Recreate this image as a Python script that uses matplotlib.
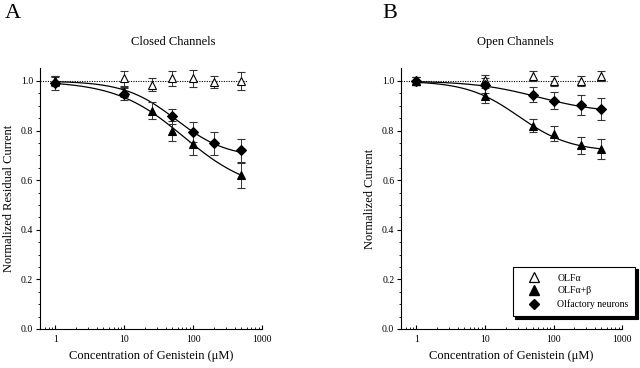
import matplotlib
matplotlib.use('Agg')
import matplotlib.pyplot as plt
import numpy as np
from matplotlib.ticker import FixedLocator, LogLocator, NullFormatter

plt.rcParams['font.family'] = ['Liberation Serif', 'DejaVu Serif']

# closed channels (panel A)
closed_x_olfa = [1, 10, 25, 50, 100, 200, 500]
closed_olfa = [1.0, 1.01, 0.985, 1.01, 1.01, 0.995, 1.0]
closed_olfa_err = [0.02, 0.03, 0.025, 0.03, 0.035, 0.025, 0.035]

closed_x_olfab = [1, 10, 25, 50, 100, 500]
closed_olfab = [1.0, 0.955, 0.88, 0.80, 0.745, 0.62]
closed_olfab_err = [0.02, 0.02, 0.035, 0.04, 0.045, 0.05]

closed_x_neur = [1, 10, 50, 100, 200, 500]
closed_neur = [0.99, 0.948, 0.857, 0.795, 0.748, 0.72]
closed_neur_err = [0.025, 0.025, 0.03, 0.04, 0.045, 0.045]

# open channels (panel B)
open_x = [1, 10, 50, 100, 250, 500]
open_olfa = [1.0, 1.005, 1.02, 1.0, 1.0, 1.02]
open_olfa_err = [0.015, 0.02, 0.02, 0.02, 0.02, 0.02]
open_olfab = [1.0, 0.94, 0.82, 0.788, 0.741, 0.727]
open_olfab_err = [0.015, 0.03, 0.025, 0.03, 0.035, 0.04]
open_neur = [1.0, 0.983, 0.945, 0.92, 0.903, 0.886]
open_neur_err = [0.015, 0.03, 0.03, 0.035, 0.04, 0.045]

# Hill fit parameters (max block, K1/2, hill coefficient)
fit_closed_olfab = (0.45, 73, 0.88)
fit_closed_neur = (0.31, 56, 1.17)
fit_open_olfab = (0.285, 31, 1.15)
fit_open_neur = (0.13, 60, 0.93)

labels = ['OLF\u03b1', 'OLF\u03b1+\u03b2', 'Olfactory neurons']


def hill(x, p):
    a, k, n = p
    return 1 - a * x ** n / (x ** n + k ** n)


def setupAxes(ax, ylabel):
    ax.set_xscale('log')
    ax.set_xlim(0.6, 1000)
    ax.set_ylim(0, 1.052)
    ax.spines['top'].set_visible(False)
    ax.spines['right'].set_visible(False)
    ax.spines['left'].set_linewidth(0.8)
    ax.spines['bottom'].set_linewidth(0.8)
    ax.xaxis.set_major_locator(FixedLocator([1, 10, 100, 1000]))
    ax.set_xticklabels(['1', '10', '100', '1000'])
    ax.xaxis.set_minor_locator(LogLocator(base=10, subs=np.arange(2, 10)))
    ax.xaxis.set_minor_formatter(NullFormatter())
    ax.set_yticks([0, 0.2, 0.4, 0.6, 0.8, 1.0])
    ax.set_yticklabels(['0.0', '0.2', '0.4', '0.6', '0.8', '1.0'])
    ax.set_yticks(np.arange(0, 1.05, 0.05), minor=True)
    ax.tick_params(axis='x', which='major', direction='in', length=3, labelsize=7, pad=4)
    ax.tick_params(axis='x', which='minor', direction='in', length=1.8)
    ax.tick_params(axis='y', which='major', direction='out', length=3, labelsize=7, pad=2)
    ax.tick_params(axis='y', which='minor', direction='out', length=1.5)
    ax.set_xlabel('Concentration of Genistein (\u03bcM)', fontsize=9, labelpad=5)
    ax.set_ylabel(ylabel, fontsize=9, labelpad=4)
    ax.plot([0.6, 600], [1, 1], color='k', linestyle=(0, (1, 1.2)), linewidth=0.8, zorder=1)


def drawSeries(ax, x, y, err, marker, face, label):
    size = 5 if marker == 'D' else 6
    ax.errorbar(x, y, yerr=err, fmt=marker, color='k', mfc=face, mec='k', ms=size, mew=0.8,
                ecolor='#333333', elinewidth=0.7, capsize=3, capthick=0.7, label=label, zorder=3)


fig = plt.figure(figsize=(6.4, 3.68), dpi=100)
axA = fig.add_axes([0.0625, 0.106, 0.347, 0.709])
axB = fig.add_axes([0.627, 0.106, 0.345, 0.709])

setupAxes(axA, 'Normalized Residual Current')
setupAxes(axB, 'Normalized Current')

xs = np.logspace(0, np.log10(500), 200)
axA.plot(xs, hill(xs, fit_closed_olfab), color='k', linewidth=0.9, zorder=2)
axA.plot(xs, hill(xs, fit_closed_neur), color='k', linewidth=0.9, zorder=2)
drawSeries(axA, closed_x_olfa, closed_olfa, closed_olfa_err, '^', 'white', labels[0])
drawSeries(axA, closed_x_olfab, closed_olfab, closed_olfab_err, '^', 'black', labels[1])
drawSeries(axA, closed_x_neur, closed_neur, closed_neur_err, 'D', 'black', labels[2])

axB.plot(xs, hill(xs, fit_open_olfab), color='k', linewidth=0.9, zorder=2)
axB.plot(xs, hill(xs, fit_open_neur), color='k', linewidth=0.9, zorder=2)
drawSeries(axB, open_x, open_olfa, open_olfa_err, '^', 'white', labels[0])
drawSeries(axB, open_x, open_olfab, open_olfab_err, '^', 'black', labels[1])
drawSeries(axB, open_x, open_neur, open_neur_err, 'D', 'black', labels[2])

handles = [
    plt.Line2D([], [], marker='^', ls='none', mfc='white', mec='k', ms=7, mew=0.9),
    plt.Line2D([], [], marker='^', ls='none', mfc='black', mec='k', ms=7),
    plt.Line2D([], [], marker='D', ls='none', mfc='black', mec='k', ms=5.5),
]
leg = axB.legend(handles, labels, loc='upper left', bbox_to_anchor=(512.7 / 640, 1 - 266.7 / 368),
                 bbox_transform=fig.transFigure, fontsize=7, fancybox=False, frameon=True,
                 edgecolor='k', borderpad=0.7, handletextpad=0.9, labelspacing=0.4,
                 handlelength=3.0, borderaxespad=0, shadow={'color': 'black', 'alpha': 1})
leg.get_frame().set_linewidth(0.8)

fig.text(173 / 640, 1 - 42 / 368, 'Closed Channels', ha='center', va='center', fontsize=9)
fig.text(515 / 640, 1 - 42 / 368, 'Open Channels', ha='center', va='center', fontsize=9)
fig.text(5 / 640, 1 - 13 / 368, 'A', ha='left', va='center', fontsize=16)
fig.text(382 / 640, 1 - 13 / 368, 'B', ha='left', va='center', fontsize=16)

fig.savefig('out.png', dpi=100)
